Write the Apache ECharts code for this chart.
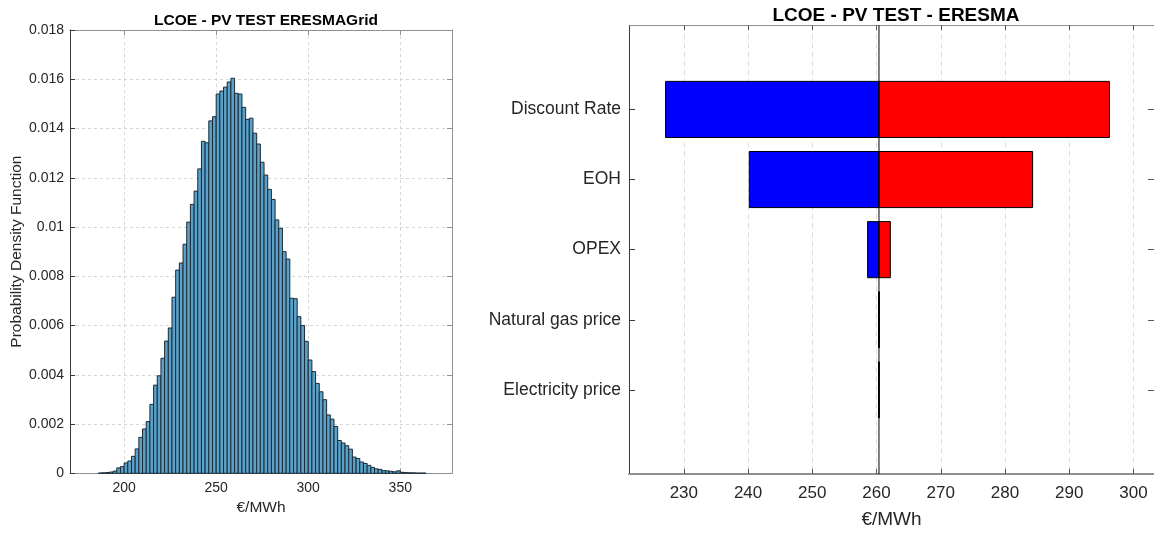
<!DOCTYPE html>
<html>
<head>
<meta charset="utf-8">
<script src="https://cdn.jsdelivr.net/npm/echarts@6/dist/echarts.min.js"></script>
<style>
  html, body { margin: 0; padding: 0; background: #ffffff; }
  #chart { width: 1154px; height: 534px; }
</style>
</head>
<body>
<div id="chart"></div>
<script>
// ---- Monte Carlo LCOE distribution (bin width 2 €/MWh) ----
const binStart = [
  186, 188, 190, 192, 194, 196, 198, 200, 202, 204, 206, 208, 210, 212, 214, 216, 218, 220,
  222, 224, 226, 228, 230, 232, 234, 236, 238, 240, 242, 244, 246, 248, 250, 252, 254, 256,
  258, 260, 262, 264, 266, 268, 270, 272, 274, 276, 278, 280, 282, 284, 286, 288, 290, 292,
  294, 296, 298, 300, 302, 304, 306, 308, 310, 312, 314, 316, 318, 320, 322, 324, 326, 328,
  330, 332, 334, 336, 338, 340, 342, 344, 346, 348, 350, 352, 354, 356, 358, 360, 362
];
const binWidth = 2;
const density = [
  0.00001, 0.00002, 0.00003, 0.00005, 0.00009, 0.00022, 0.00027, 0.00042, 0.00050, 0.00069,
  0.00099, 0.00146, 0.00180, 0.00210, 0.00280, 0.00358, 0.00396, 0.00467, 0.00537, 0.00590,
  0.00715, 0.00825, 0.00854, 0.00930, 0.01020, 0.01092, 0.01146, 0.01236, 0.01348, 0.01342,
  0.01431, 0.01448, 0.01540, 0.01552, 0.01568, 0.01589, 0.01604, 0.01543, 0.01540, 0.01486,
  0.01437, 0.01442, 0.01381, 0.01337, 0.01263, 0.01211, 0.01153, 0.01112, 0.01029, 0.00995,
  0.00900, 0.00870, 0.00711, 0.00709, 0.00636, 0.00600, 0.00536, 0.00460, 0.00413, 0.00365,
  0.00331, 0.00299, 0.00237, 0.00220, 0.00190, 0.00133, 0.00123, 0.00112, 0.00098, 0.00066,
  0.00060, 0.00046, 0.00040, 0.00032, 0.00024, 0.00018, 0.00016, 0.00011, 0.00010, 0.00008,
  0.00006, 0.00010, 0.00004, 0.00003, 0.00002, 0.00002, 0.00001, 0.00001, 0.00001
];
const histTicks = [200, 250, 300, 350];
const histRange = [170.6, 378.1];
const pdfRange = [0, 0.018];
const pdfStep = 0.002;

// ---- Sensitivity (tornado) of LCOE to each input ----
const factors = ['Discount Rate', 'EOH', 'OPEX', 'Natural gas price', 'Electricity price'];
const factorPos = [1, 2, 3, 4, 5];
const lowValues = [227.15, 240.19, 258.61, 260.35, 260.36];
const highValues = [296.26, 284.30, 262.15, 260.42, 260.40];
const baseValue = 260.38;
const tornadoTicks = [230, 240, 250, 260, 270, 280, 290, 300];
const tornadoRange = [221.46, 303.2];
const factorRange = [-0.2, 6.2];

const FONT = "'Liberation Sans', Arial, Helvetica, sans-serif";
const TEXT = '#262626';
const DARK_AXIS = '#3a3a3a';
const LIGHT_AXIS = '#8f8f8f';

const histData = binStart.map((s, i) => [s, s + binWidth, density[i]]);
const lowData = factorPos.map((p, i) => [p, lowValues[i]]);
const highData = factorPos.map((p, i) => [p, highValues[i]]);

function sideBar(color) {
  return function (params, api) {
    const pos = api.value(0);
    const end = api.coord([api.value(1), pos]);
    const start = api.coord([baseValue, pos]);
    const h = Math.abs(api.size([0, 0.8])[1]);
    return {
      type: 'rect',
      shape: {
        x: Math.min(end[0], start[0]),
        y: end[1] - h / 2,
        width: Math.abs(end[0] - start[0]),
        height: h
      },
      style: { fill: color, stroke: '#000000', lineWidth: 1 }
    };
  };
}

const chart = echarts.init(document.getElementById('chart'), null, { renderer: 'canvas' });

const option = {
  animation: false,
  backgroundColor: '#ffffff',
  textStyle: { fontFamily: FONT },
  title: [
    {
      text: 'LCOE - PV TEST ERESMAGrid',
      left: 261, top: 8, textAlign: 'center',
      textStyle: { fontFamily: FONT, fontSize: 15.5, fontWeight: 'bold', color: '#000000' }
    },
    {
      text: 'LCOE - PV TEST - ERESMA',
      left: 891, top: 1, textAlign: 'center',
      textStyle: { fontFamily: FONT, fontSize: 19, fontWeight: 'bold', color: '#000000' }
    }
  ],
  grid: [
    { left: 70, top: 30, width: 382, height: 443.3, containLabel: false },
    { left: 629, top: 25.3, right: 0, height: 451.8, containLabel: false }
  ],
  xAxis: [
    {
      gridIndex: 0, type: 'value', position: 'bottom',
      min: histRange[0], max: histRange[1],
      name: '€/MWh', nameLocation: 'middle', nameGap: 26,
      nameTextStyle: { fontFamily: FONT, fontSize: 15.5, color: TEXT },
      axisLine: { show: true, onZero: false, lineStyle: { color: LIGHT_AXIS, width: 1 } },
      axisTick: { show: true, inside: true, length: 5, customValues: histTicks, lineStyle: { color: LIGHT_AXIS } },
      axisLabel: { customValues: histTicks, fontFamily: FONT, fontSize: 14, color: TEXT, margin: 8 },
      splitLine: { show: true, lineStyle: { color: '#d6d6d6', type: [3, 3], width: 1 } }
    },
    {
      gridIndex: 0, type: 'value', position: 'top',
      min: histRange[0], max: histRange[1],
      axisLine: { show: true, onZero: false, lineStyle: { color: LIGHT_AXIS, width: 1 } },
      axisTick: { show: true, inside: true, length: 5, customValues: histTicks, lineStyle: { color: LIGHT_AXIS } },
      axisLabel: { show: false },
      splitLine: { show: false }
    },
    {
      gridIndex: 1, type: 'value', position: 'bottom',
      min: tornadoRange[0], max: tornadoRange[1],
      name: '€/MWh', nameLocation: 'middle', nameGap: 36,
      nameTextStyle: { fontFamily: FONT, fontSize: 19, color: TEXT },
      axisLine: { show: true, onZero: false, lineStyle: { color: LIGHT_AXIS, width: 2 } },
      axisTick: { show: true, inside: true, length: 5, customValues: tornadoTicks, lineStyle: { color: '#555555' } },
      axisLabel: { customValues: tornadoTicks, fontFamily: FONT, fontSize: 17, color: TEXT, margin: 11 },
      splitLine: { show: true, lineStyle: { color: '#dcdcdc', type: [5, 4], width: 1 } }
    },
    {
      gridIndex: 1, type: 'value', position: 'top',
      min: tornadoRange[0], max: tornadoRange[1],
      axisLine: { show: true, onZero: false, lineStyle: { color: LIGHT_AXIS, width: 1 } },
      axisTick: { show: true, inside: true, length: 5, customValues: tornadoTicks, lineStyle: { color: '#555555' } },
      axisLabel: { show: false },
      splitLine: { show: false }
    }
  ],
  yAxis: [
    {
      gridIndex: 0, type: 'value', position: 'left',
      min: pdfRange[0], max: pdfRange[1], interval: pdfStep,
      name: 'Probability Density Function', nameLocation: 'middle', nameGap: 45,
      nameTextStyle: { fontFamily: FONT, fontSize: 15.5, color: TEXT },
      axisLine: { show: true, onZero: false, lineStyle: { color: DARK_AXIS, width: 1 } },
      axisTick: { show: true, inside: true, length: 5, lineStyle: { color: DARK_AXIS } },
      axisLabel: { fontFamily: FONT, fontSize: 14, color: TEXT, margin: 6 },
      splitLine: { show: true, lineStyle: { color: '#d6d6d6', type: [3, 3], width: 1 } }
    },
    {
      gridIndex: 0, type: 'value', position: 'right',
      min: pdfRange[0], max: pdfRange[1], interval: pdfStep,
      axisLine: { show: true, onZero: false, lineStyle: { color: LIGHT_AXIS, width: 1 } },
      axisTick: { show: true, inside: true, length: 5, lineStyle: { color: LIGHT_AXIS } },
      axisLabel: { show: false },
      splitLine: { show: false }
    },
    {
      gridIndex: 1, type: 'value', position: 'left', inverse: true,
      min: factorRange[0], max: factorRange[1],
      axisLine: { show: true, onZero: false, lineStyle: { color: DARK_AXIS, width: 1 } },
      axisTick: { show: true, inside: true, length: 6, customValues: factorPos, lineStyle: { color: DARK_AXIS } },
      axisLabel: {
        customValues: factorPos,
        formatter: (v) => factors[Math.round(v) - 1] || '',
        fontFamily: FONT, fontSize: 17.5, color: TEXT, margin: 8
      },
      splitLine: { show: false }
    },
    {
      gridIndex: 1, type: 'value', position: 'right', inverse: true,
      min: factorRange[0], max: factorRange[1],
      axisLine: { show: true, onZero: false, lineStyle: { color: LIGHT_AXIS, width: 1 } },
      axisTick: { show: true, inside: true, length: 6, customValues: factorPos, lineStyle: { color: '#555555' } },
      axisLabel: { show: false },
      splitLine: { show: false }
    }
  ],
  series: [
    {
      name: 'PDF',
      type: 'custom',
      xAxisIndex: 0, yAxisIndex: 0,
      encode: { x: [0, 1], y: 2 },
      data: histData,
      renderItem: function (params, api) {
        const p0 = api.coord([api.value(0), 0]);
        const p1 = api.coord([api.value(1), api.value(2)]);
        return {
          type: 'rect',
          shape: { x: p0[0], y: p1[1], width: p1[0] - p0[0], height: p0[1] - p1[1] },
          style: { fill: '#5aa2ca', stroke: '#1b2a36', lineWidth: 1 }
        };
      },
      silent: true
    },
    {
      name: 'Base',
      type: 'line',
      xAxisIndex: 2, yAxisIndex: 2,
      data: [[baseValue, factorRange[0]], [baseValue, factorRange[1]]],
      symbol: 'none',
      lineStyle: { color: '#000000', width: 1 },
      silent: true,
      z: 3
    },
    {
      name: 'Low',
      type: 'custom',
      xAxisIndex: 2, yAxisIndex: 2,
      encode: { x: 1, y: 0 },
      data: lowData,
      renderItem: sideBar('#0000ff'),
      silent: true,
      z: 2
    },
    {
      name: 'High',
      type: 'custom',
      xAxisIndex: 2, yAxisIndex: 2,
      encode: { x: 1, y: 0 },
      data: highData,
      renderItem: sideBar('#ff0000'),
      silent: true,
      z: 2
    }
  ]
};

chart.setOption(option);
</script>
</body>
</html>
